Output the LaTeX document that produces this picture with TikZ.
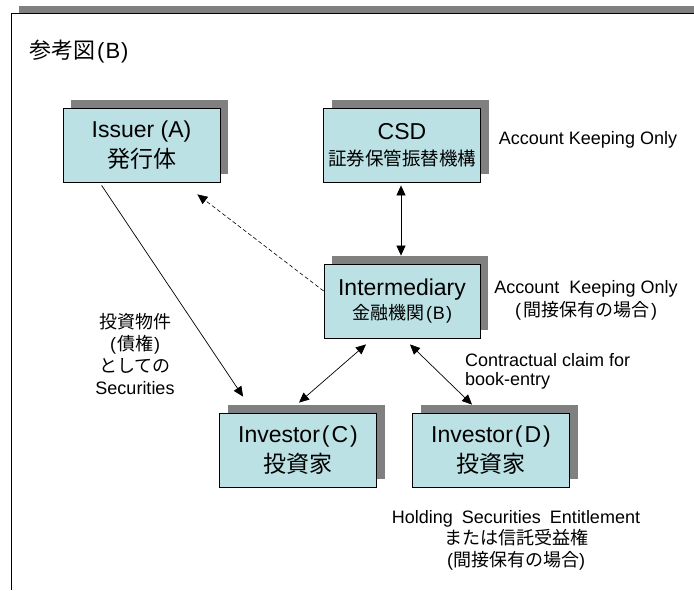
\documentclass[tikz,border=0pt]{standalone}
\usepackage{fontspec}
\setmainfont{Liberation Sans}
\newfontfamily\jp{Noto Sans CJK JP}
\usetikzlibrary{arrows.meta,shadows,calc}
\definecolor{boxfill}{RGB}{188,225,228}
\definecolor{shadowgray}{RGB}{128,128,128}
\begin{document}
\begin{tikzpicture}[x=1pt,y=-1pt,
  ebox/.style={draw=black, line width=0.8pt, fill=boxfill,
    minimum width=157pt, minimum height=74pt, inner sep=0pt, align=center,
    drop shadow={shadow xshift=8pt, shadow yshift=8pt, fill=shadowgray, opacity=1}},
  conn/.style={line width=0.7pt, -{Triangle[length=10pt,width=9pt]}},
  bconn/.style={line width=0.7pt, {Triangle[length=10pt,width=9pt]}-{Triangle[length=10pt,width=9pt]}},
  dconn/.style={line width=0.6pt, dash pattern=on 4pt off 2.5pt, -{Triangle[length=10pt,width=9pt]}},
  note/.style={align=center, inner sep=0pt, font=\fontsize{18}{22}\selectfont}]
\useasboundingbox (0,0) rectangle (694,590);
% page frame with its shadow
\fill[shadowgray] (19,5.5) rectangle (694,13.5);
\draw[line width=0.8pt] (11,590) -- (11,13.5) -- (694,13.5);

\node[note, font=\fontsize{22}{24}\selectfont, anchor=west] (title) at (29,52)
  {{\jp 参考図}\hspace{2pt}(\hspace{1pt}B\hspace{1pt})};

% boxes
\node[ebox, font=\fontsize{23}{30}\selectfont] (iss) at (141.5,145)
  {Issuer (A)\\{\jp 発行体}};
\node[ebox, font=\fontsize{23}{26}\selectfont] (csd) at (402,145)
  {CSD\\{\jp\fontsize{18.5}{20}\selectfont 証券保管振替機構}};
\node[ebox, font=\fontsize{23}{24}\selectfont, minimum width=156pt] (int) at (402,301)
  {Intermediary\\{\fontsize{18}{20}\selectfont{\jp 金融機関}\hspace{2pt}(\hspace{1pt}B\hspace{1pt})}};
\node[ebox, font=\fontsize{23}{30}\selectfont] (invc) at (298,450)
  {Investor\hspace{2pt}(\hspace{2pt}C\hspace{2pt})\\{\jp 投資家}};
\node[ebox, font=\fontsize{23}{30}\selectfont] (invd) at (491,450)
  {Investor\hspace{2pt}(\hspace{2pt}D\hspace{2pt})\\{\jp 投資家}};

% notes
\node[note] (ak1) at (588,140) {Account Keeping Only};
\node[note, font=\fontsize{18}{23}\selectfont] (ak2) at (586,300)
  {Account\hspace{10pt}Keeping Only\\(\hspace{2pt}{\jp 間接保有の場合}\hspace{2pt})};
\node[note, align=left, font=\fontsize{18}{19}\selectfont, anchor=west] (cc) at (465,371)
  {Contractual claim for\\book-entry};
\node[note] (sec) at (135,354)
  {{\jp 投資物件}\\(\hspace{1pt}{\jp 債権}\hspace{1pt})\\{\jp としての}\\Securities};
\node[note, font=\fontsize{18}{21.5}\selectfont] (hold) at (516,540)
  {Holding\hspace{9pt}Securities\hspace{9pt}Entitlement\\{\jp または信託受益権}\\({\jp 間接保有の場合})};

% connectors
\draw[conn] ([xshift=39pt,yshift=-3pt]iss.south west) -- ([xshift=24pt,yshift=16pt]invc.north west);
\draw[dconn] ([yshift=10pt]int.west) -- ([xshift=-23pt,yshift=-12pt]iss.south east);
\draw[bconn] ([xshift=-1pt,yshift=-3pt]csd.south) -- ([xshift=-1pt,yshift=8pt]int.north);
\draw[bconn] ([xshift=1pt,yshift=10pt]invc.north) -- ([xshift=-36pt,yshift=-6pt]int.south);
\draw[bconn] ([xshift=8pt,yshift=-6pt]int.south) -- ([xshift=-19pt,yshift=8pt]invd.north);
\end{tikzpicture}
\end{document}
